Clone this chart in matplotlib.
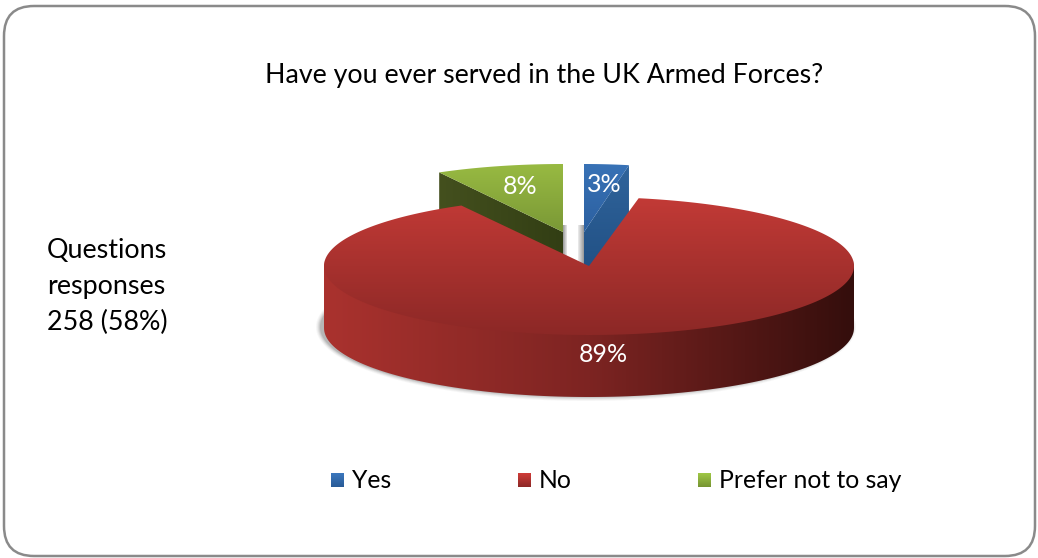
import numpy as np
import matplotlib
matplotlib.use("Agg")
import matplotlib.pyplot as plt
from matplotlib.patches import FancyBboxPatch, PathPatch
from matplotlib.path import Path

plt.rcParams['font.family'] = ['Lato', 'DejaVu Sans']

# survey answers, clockwise from 12 o'clock
categories = ['Yes', 'No', 'Prefer not to say']
percentages = [3, 89, 8]
title_text = 'Have you ever served in the UK Armed Forces?'
side_text = ['Questions', 'responses', '258 (58%)']

W, H = 1038, 558
DEPTH = 62

# slice layout: centre and radii of each top face (two slices are pulled out)
layout = {
    'Yes': dict(cx=584, cy=232, rx=240, ry=68),
    'No': dict(cx=589, cy=266, rx=265, ry=69),
    'Prefer not to say': dict(cx=563, cy=232, rx=257, ry=68),
}
swatches = {
    'Yes': ((60, 120, 190), (40, 90, 150)),
    'No': ((208, 60, 56), (140, 40, 38)),
    'Prefer not to say': ((160, 200, 70), (118, 148, 50)),
}
legend_x = {'Yes': 331, 'No': 518, 'Prefer not to say': 698}


def arc(s, a0, a1, n=120):
    t = np.radians(np.linspace(a0, a1, n))
    return np.column_stack([s['cx'] + s['rx'] * np.sin(t), s['cy'] - s['ry'] * np.cos(t)])


def polygon(points):
    points = np.asarray(points, dtype=float)
    codes = [Path.MOVETO] + [Path.LINETO] * (len(points) - 1)
    return Path(points, codes)


def gradient(ax, path, start, end, horizontal=False, zorder=1):
    # gradient image clipped to the shape
    x0, y0 = path.vertices.min(axis=0)
    x1, y1 = path.vertices.max(axis=0)
    f = np.linspace(0, 1, 256)[:, None]
    rgb = (np.array(start) * (1 - f) + np.array(end) * f) / 255
    img = rgb[None, :, :] if horizontal else rgb[:, None, :]
    im = ax.imshow(img, extent=(x0, x1, y1, y0), aspect='auto', origin='upper',
                   interpolation='bilinear', zorder=zorder)
    im.set_clip_path(PathPatch(path, transform=ax.transData))


fig = plt.figure(figsize=(W / 100, H / 100), dpi=100)
ax = fig.add_axes([0, 0, 1, 1])

ax.add_patch(FancyBboxPatch((4, 6), 1031, 550, boxstyle='round,pad=0,rounding_size=30',
                            fc='white', ec='#8a8a8a', lw=1.8, zorder=0))

# angle range of every slice
ends = np.cumsum(percentages) * 3.6
starts = ends - np.array(percentages) * 3.6
angles = {c: (a, b) for c, a, b in zip(categories, starts, ends)}

# shadows beside the gap between the pulled-out slices
for x0, x1, c0, c1 in [(563, 567, (150, 150, 150), (235, 235, 235)),
                       (578, 584, (240, 240, 240), (150, 150, 150))]:
    gradient(ax, polygon([(x0, 225), (x1, 225), (x1, 264), (x0, 264)]), c0, c1, True, 1)

# green slice
s = layout['Prefer not to say']
a0, a1 = angles['Prefer not to say']
rim = arc(s, a0, a1)
apex = (s['cx'], s['cy'])
cut = [apex, rim[0], rim[0] + (0, DEPTH), (apex[0], apex[1] + DEPTH)]
gradient(ax, polygon(cut), (68, 80, 30), (50, 62, 20), True, 2)
gradient(ax, polygon([apex, *rim]), (152, 186, 66), (122, 152, 54), False, 3)

# blue slice
s = layout['Yes']
a0, a1 = angles['Yes']
rim = arc(s, a0, a1)
apex = (s['cx'], s['cy'])
cut = [apex, rim[-1], rim[-1] + (0, DEPTH), (apex[0], apex[1] + DEPTH)]
gradient(ax, polygon(cut), (48, 100, 155), (30, 76, 128), False, 2)
gradient(ax, polygon([apex, *rim]), (56, 114, 182), (44, 96, 160), False, 3)

# soft shadow under the red slice, the wall covers all but its left edge
s = layout['No']
a0, a1 = angles['No']
for grow, alpha in [(5, 0.06), (4, 0.08), (3, 0.12), (2, 0.16), (1, 0.22)]:
    t = np.radians(np.linspace(60, 300, 200))
    xs = s['cx'] - 3 + (s['rx'] + grow) * np.sin(t)
    ys = s['cy'] + DEPTH - 1 - (s['ry'] + grow) * np.cos(t)
    ax.add_patch(PathPatch(polygon(np.column_stack([xs, ys])), fc='#707070', ec='none',
                           alpha=alpha, zorder=4))

# red slice: outer wall then top face, the wall runs a little under the face
lower = arc(s, 90, 270)
wall = np.vstack([lower + (0, -6), lower[::-1] + (0, DEPTH)])
for x_left, x_right, c0, c1 in [(s['cx'] - s['rx'], s['cx'] + 1, (170, 50, 46), (125, 36, 34)),
                                (s['cx'], s['cx'] + s['rx'], (125, 36, 34), (52, 14, 12))]:
    part = wall.copy()
    part[:, 0] = np.clip(part[:, 0], x_left, x_right)
    gradient(ax, polygon(part), c0, c1, True, 5)
top = np.vstack([[(s['cx'], s['cy'])], arc(s, a0, a1, 400)])
gradient(ax, polygon(top), (194, 58, 54), (140, 40, 38), False, 6)

# value labels
label_pos = {'Yes': (604, 185), 'No': (603, 354), 'Prefer not to say': (520, 187)}
for c, v in zip(categories, percentages):
    ax.text(*label_pos[c], f'{v}%', color='white', fontsize=18, ha='center', va='center', zorder=8)

ax.text(544, 75, title_text, fontsize=19.25, ha='center', va='center', color='black', zorder=8)
for i, line in enumerate(side_text):
    ax.text(47, 251 + i * 35.5, line, fontsize=19.4, ha='left', va='center', color='black', zorder=8)

# legend
for c in categories:
    x = legend_x[c]
    gradient(ax, polygon([(x, 473), (x + 13, 473), (x + 13, 487), (x, 487)]), *swatches[c], False, 7)
    ax.text(x + 21, 481, c, fontsize=17.8, ha='left', va='center', color='black', zorder=8)

ax.set_xlim(0, W)
ax.set_ylim(H, 0)
ax.axis('off')
fig.savefig('out.png', dpi=100, facecolor='white')
